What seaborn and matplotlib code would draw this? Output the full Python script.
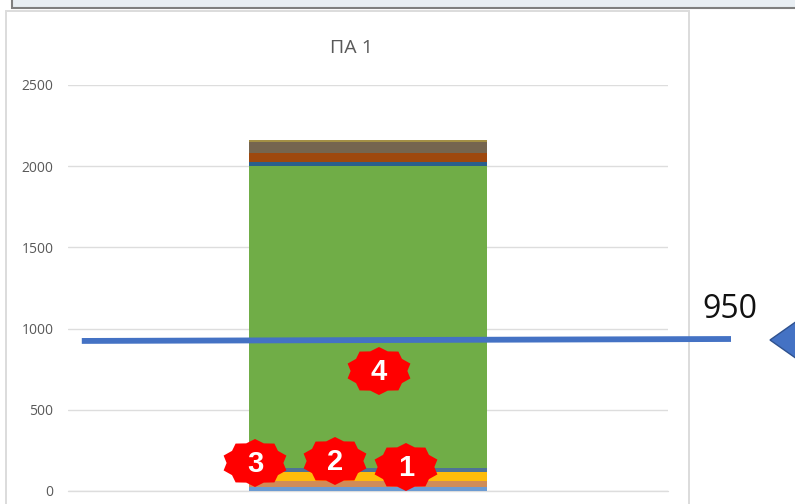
import matplotlib
matplotlib.use("Agg")
import seaborn as sns
import matplotlib.pyplot as plt
from matplotlib.patches import PathPatch, Polygon, Rectangle
from matplotlib.path import Path
from matplotlib.transforms import Affine2D

W, H = 795, 504

category = ["ПА 1"]
segment_values = [25, 35, 60, 20, 1863, 20, 57, 70, 10]
segment_colors = [
    "#6C9BD2", "#D08C58", "#FFBC0A", "#4F7396", "#70AD47",
    "#2A5F8C", "#9E480E", "#75654F", "#A38F45",
]
y_ticks = [0, 500, 1000, 1500, 2000, 2500]
limit_label = "950"
limit_x = [-0.477, 0.605]
limit_y = [924, 936]
badge_labels = ["1", "2", "3", "4"]
badge_x = [406, 335, 255, 379]
badge_y = [467, 461, 463, 371]

sns.set_theme(style="white")
plt.rcParams["font.family"] = ["Open Sans", "DejaVu Sans"]

fig = plt.figure(figsize=(W / 100, H / 100), dpi=100, facecolor="white")

# full figure overlay in pixels, for the slide furniture
back = fig.add_axes([0, 0, 1, 1], zorder=0)
back.set_xlim(0, W)
back.set_ylim(H, 0)
back.axis("off")
back.add_patch(Rectangle((12, -3), 790, 10.5, facecolor="#E8EEF3", edgecolor="#7F7F7F", linewidth=1.5))
back.add_patch(Rectangle((6, 10.5), 683, 510, facecolor="white", edgecolor="#DCDCDC", linewidth=1.4))

# chart area: gridlines run 68..668 px, zero at 491 px, 2500 at 85 px
ax = fig.add_axes([68 / W, 1 - 491 / H, 600 / W, 406 / H], zorder=1)
ax.patch.set_alpha(0)
bottom = 0
for value, color in zip(segment_values, segment_colors):
    sns.barplot(
        x=category, y=[value], bottom=bottom, color=color, width=0.398,
        saturation=1, linewidth=0, ax=ax, zorder=3, err_kws={"linewidth": 0},
    )
    bottom += value
ax.set_xlim(-0.5, 0.5)
ax.set_ylim(0, 2500)
ax.set_yticks(y_ticks)
ax.set_xticks([])
ax.set_xlabel("")
ax.set_ylabel("")
ax.grid(axis="y", color="#DDDDDD", linewidth=1)
ax.set_axisbelow(True)
sns.despine(ax=ax, left=True, top=True, right=True, bottom=True)
ax.tick_params(axis="y", length=0, pad=10.5, labelsize=10, labelcolor="#595959")
ax.spines["bottom"].set_visible(False)
ax.axhline(0, color="#DDDDDD", linewidth=1, clip_on=False, zorder=2)
ax.set_title(category[0], fontsize=14, color="#595959", y=1, pad=23, x=0.473)

# hand drawn limit line sits on top of the chart
ax.plot(limit_x, limit_y, color="#4472C4", linewidth=4.2, clip_on=False, zorder=5, solid_capstyle="butt")

front = fig.add_axes([0, 0, 1, 1], zorder=2)
front.set_xlim(0, W)
front.set_ylim(H, 0)
front.axis("off")
front.patch.set_alpha(0)
front.text(729.5, 309.5, limit_label, fontsize=23, color="#111111", ha="center", va="center")
front.add_patch(Polygon([(770, 340), (797, 321), (797, 359)], facecolor="#4472C4", edgecolor="#2F528F", linewidth=1))

star = Path.unit_regular_star(10, innerCircle=0.86)
for label, x, y in zip(badge_labels, badge_x, badge_y):
    shape = Affine2D().scale(33, 24).translate(x, y)
    front.add_patch(PathPatch(star.transformed(shape), facecolor="#FF0000", edgecolor="none", zorder=3))
    front.text(
        x, y + 1, label, fontsize=21, fontweight="bold", color="white",
        family="Liberation Sans", ha="center", va="center", zorder=4,
    )

fig.savefig("out.png", dpi=100)
